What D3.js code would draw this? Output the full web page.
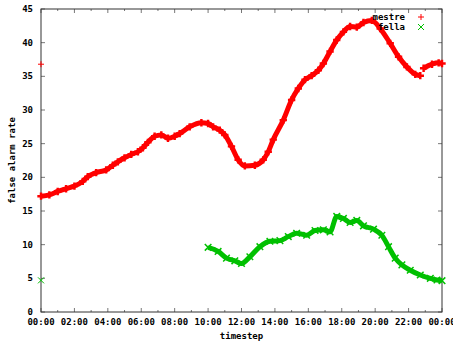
<!DOCTYPE html>
<html>
<head>
<meta charset="utf-8">
<script src="https://cdn.jsdelivr.net/npm/d3@7"></script>
<style>
  body { margin: 0; background: #fff; }
  text { font-family: "DejaVu Sans Mono", monospace; font-size: 9px; font-weight: bold; fill: #000; }
</style>
</head>
<body>
<div id="chart"></div>
<script>
// values (hour of day, false alarm rate)
var mestreHours = [0, 0.5, 1, 1.5, 2, 2.5, 2.8, 3.3, 3.9, 4.3, 4.6, 5, 5.4, 5.8, 6.1, 6.4, 6.8, 7.2, 7.6, 8, 8.3, 8.9, 9.6, 10, 10.3, 10.7, 11, 11.4, 11.8, 12.2, 12.8, 13.3, 13.6, 13.9, 14.5, 15, 15.4, 15.8, 16.2, 16.6, 16.9, 17.3, 17.7, 18.1, 18.5, 18.9, 19.3, 19.8, 20.3, 20.9, 21.4, 21.9, 22.4, 22.7, 22.8, 22.9, 23.4, 23.8, 24];
var mestreRate = [17.2, 17.4, 17.9, 18.3, 18.7, 19.4, 20.1, 20.7, 21.1, 21.8, 22.3, 22.9, 23.4, 23.8, 24.4, 25.2, 26.1, 26.3, 25.8, 26.1, 26.5, 27.5, 28.1, 28.0, 27.5, 27.0, 26.3, 24.6, 22.6, 21.7, 21.8, 22.6, 23.8, 25.6, 28.5, 31.5, 33.2, 34.5, 35.1, 35.9, 36.9, 38.7, 40.4, 41.6, 42.4, 42.3, 43.0, 43.3, 42.1, 39.9, 37.9, 36.4, 35.3, 35.1, null, 36.2, 36.8, 37.0, 36.9];
var fellaHours = [10, 10.6, 11.1, 11.6, 12, 12.5, 13.1, 13.7, 14.3, 14.8, 15.3, 15.9, 16.4, 16.9, 17.3, 17.7, 18.1, 18.5, 18.9, 19.3, 19.9, 20.4, 20.8, 21.2, 21.6, 22.1, 22.7, 23.3, 23.7, 24];
var fellaRate = [9.6, 9.0, 8.0, 7.6, 7.2, 8.2, 9.7, 10.5, 10.6, 11.2, 11.7, 11.4, 12.1, 12.2, 11.9, 14.2, 13.9, 13.3, 13.6, 12.8, 12.3, 11.4, 9.7, 8.0, 7.0, 6.2, 5.5, 5.0, 4.75, 4.65];
// lone points at midnight
var mestreMidnight = 36.8;
var fellaMidnight = 4.7;

var xTicks = [0, 2, 4, 6, 8, 10, 12, 14, 16, 18, 20, 22, 24];
var yTicks = [0, 5, 10, 15, 20, 25, 30, 35, 40, 45];
var seriesNames = ["mestre", "fella"];
var seriesColors = ["#ff0000", "#00c000"];

var svgWidth = 453, svgHeight = 344;
var margin = { top: 9, right: 11, bottom: 32, left: 41 };
var width = svgWidth - margin.left - margin.right;
var height = svgHeight - margin.top - margin.bottom;

var svg = d3.select("#chart").append("svg")
  .attr("width", svgWidth)
  .attr("height", svgHeight);

var g = svg.append("g")
  .attr("transform", `translate(${margin.left}, ${margin.top})`);

var x = d3.scaleLinear().domain([0, 24]).range([0, width]);
var y = d3.scaleLinear().domain([0, 45]).range([height, 0]);

var fmt = h => d3.format("02")(h % 24) + ":00";

// ticks (inward, mirrored like gnuplot)
var hourTicks = d3.range(0, 25);
g.selectAll(".xt").data(hourTicks).enter().append("line")
  .attr("x1", d => x(d)).attr("x2", d => x(d))
  .attr("y1", height).attr("y2", d => height - (d % 2 ? 2 : 4))
  .attr("stroke", "#777");
g.selectAll(".xtt").data(hourTicks).enter().append("line")
  .attr("x1", d => x(d)).attr("x2", d => x(d))
  .attr("y1", 0).attr("y2", d => (d % 2 ? 2 : 4))
  .attr("stroke", "#777");
g.selectAll(".yt").data(yTicks).enter().append("line")
  .attr("x1", 0).attr("x2", 4)
  .attr("y1", d => y(d)).attr("y2", d => y(d))
  .attr("stroke", "#777");
g.selectAll(".ytr").data(yTicks).enter().append("line")
  .attr("x1", width).attr("x2", width - 4)
  .attr("y1", d => y(d)).attr("y2", d => y(d))
  .attr("stroke", "#777");

// tick labels
g.selectAll(".xl").data(xTicks).enter().append("text")
  .attr("x", d => x(d)).attr("y", height + 13)
  .attr("text-anchor", "middle")
  .text(fmt);
g.selectAll(".yl").data(yTicks).enter().append("text")
  .attr("x", -8).attr("y", d => y(d) + 3)
  .attr("text-anchor", "end")
  .text(d => d);

// border
g.append("rect")
  .attr("width", width).attr("height", height)
  .attr("fill", "none").attr("stroke", "#333").attr("stroke-width", 1);

// axis titles
g.append("text")
  .attr("x", width / 2).attr("y", height + 27)
  .attr("text-anchor", "middle")
  .text("timestep");
g.append("text")
  .attr("transform", `translate(${-26}, ${height / 2}) rotate(-90)`)
  .attr("text-anchor", "middle")
  .text("false alarm rate");

// series
var mestre = mestreHours.map((h, i) => ({ h: h, v: mestreRate[i] }));
var fella = fellaHours.map((h, i) => ({ h: h, v: fellaRate[i] }));

var line = d3.line()
  .defined(d => d.v !== null)
  .x(d => x(d.h))
  .y(d => y(d.v))
  .curve(d3.curveMonotoneX);

var plot = g.append("g");

function drawSeries(data, color, symbol, stroked) {
  plot.append("path")
    .datum(data)
    .attr("d", line)
    .attr("fill", "none")
    .attr("stroke", color)
    .attr("stroke-width", 5)
    .attr("stroke-linejoin", "round");
  plot.selectAll(null).data(data.filter(d => d.v !== null)).enter().append("path")
    .attr("d", d3.symbol().type(symbol).size(30))
    .attr("transform", d => `translate(${x(d.h)}, ${y(d.v)})`)
    .attr("fill", stroked ? "none" : color)
    .attr("stroke", stroked ? color : "none")
    .attr("stroke-width", 1.5);
}

drawSeries(mestre, seriesColors[0], d3.symbolCross, false);
drawSeries(fella, seriesColors[1], d3.symbolTimes, true);

// lone midnight points
function plus(sel, cx, cy, color) {
  sel.append("path")
    .attr("d", `M${cx - 3},${cy}H${cx + 3}M${cx},${cy - 3}V${cy + 3}`)
    .attr("stroke", color).attr("stroke-width", 1).attr("fill", "none");
}
function cross(sel, cx, cy, color) {
  sel.append("path")
    .attr("d", `M${cx - 3},${cy - 3}L${cx + 3},${cy + 3}M${cx - 3},${cy + 3}L${cx + 3},${cy - 3}`)
    .attr("stroke", color).attr("stroke-width", 1).attr("fill", "none");
}
plus(plot, x(0), y(mestreMidnight), seriesColors[0]);
cross(plot, x(0), y(fellaMidnight), seriesColors[1]);

// legend
var legend = g.append("g");
seriesNames.forEach(function(name, i) {
  var ly = 8 + i * 10;
  legend.append("text")
    .attr("x", 364).attr("y", ly + 3)
    .attr("text-anchor", "end")
    .text(name);
  if (i === 0) plus(legend, 380, ly, seriesColors[i]);
  else cross(legend, 380, ly, seriesColors[i]);
});
</script>
</body>
</html>
